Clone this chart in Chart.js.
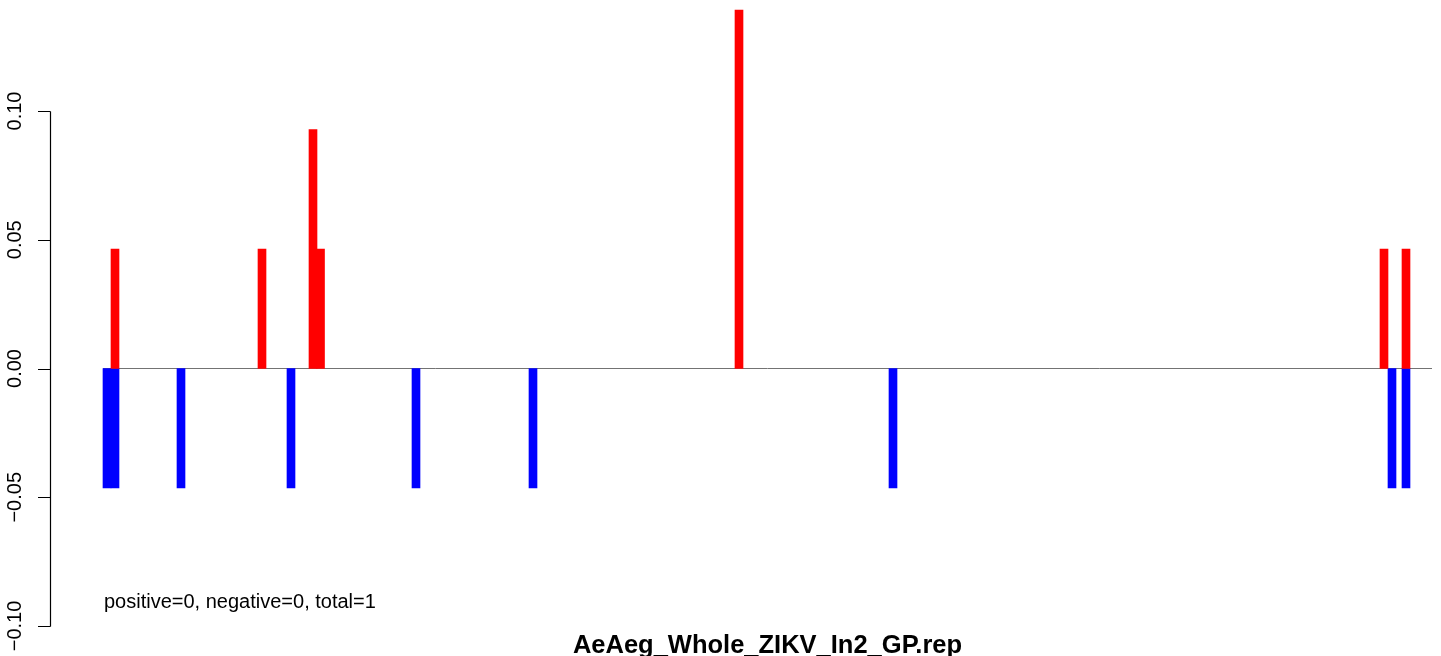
<!DOCTYPE html>
<html>
<head>
<meta charset="utf-8">
<title>AeAeg_Whole_ZIKV_In2_GP.rep</title>
<script src="https://cdn.jsdelivr.net/npm/chart.js@4/dist/chart.umd.min.js"></script>
<style>
  html, body { margin: 0; padding: 0; background: #ffffff; }
  #wrap { position: relative; width: 1441px; height: 656px; }
</style>
</head>
<body>
<div id="wrap"><canvas id="myChart"></canvas></div>
<script>
// positions along the sequence (arbitrary units) and read heights
var posPositions = [12, 159, 210, 217.5, 636, 1281, 1303];
var posValues    = [0.0464, 0.0464, 0.0928, 0.0464, 0.1392, 0.0464, 0.0464];
var negPositions = [4, 12, 78, 188, 313, 430, 790, 1289, 1303];
var negValues    = [-0.0464, -0.0464, -0.0464, -0.0464, -0.0464, -0.0464, -0.0464, -0.0464, -0.0464];
var seqRange     = [0, 1329];
var yTicks       = [-0.10, -0.05, 0.00, 0.05, 0.10];
var yTickLabels  = ["\u22120.10", "\u22120.05", "0.00", "0.05", "0.10"];
var mainTitle    = "AeAeg_Whole_ZIKV_In2_GP.rep";
var countsText   = "positive=0, negative=0, total=1";

function toPoints(xs, ys) {
  return xs.map(function (x, i) { return { x: x, y: ys[i] }; });
}

var rAxis = {
  id: "rAxis",
  afterDraw: function (chart) {
    var ctx = chart.ctx;
    var y = chart.scales.y;
    var axisX = 50.5;
    ctx.save();
    ctx.strokeStyle = "#000000";
    ctx.lineWidth = 1.2;
    ctx.beginPath();
    ctx.moveTo(axisX, Math.round(y.getPixelForValue(yTicks[0])) + 0.5);
    ctx.lineTo(axisX, Math.round(y.getPixelForValue(yTicks[yTicks.length - 1])) + 0.5);
    yTicks.forEach(function (t) {
      var py = Math.round(y.getPixelForValue(t)) + 0.5;
      ctx.moveTo(axisX, py);
      ctx.lineTo(axisX - 12.5, py);
    });
    ctx.stroke();

    ctx.fillStyle = "#000000";
    ctx.font = "20px 'Liberation Sans', Arial, sans-serif";
    ctx.textAlign = "center";
    ctx.textBaseline = "alphabetic";
    yTicks.forEach(function (t, i) {
      var py = y.getPixelForValue(t);
      ctx.save();
      ctx.translate(21, py);
      ctx.rotate(-Math.PI / 2);
      ctx.fillText(yTickLabels[i], 0, 0);
      ctx.restore();
    });

    ctx.textAlign = "left";
    ctx.fillText(countsText, 104, 608);

    ctx.font = "bold 25.5px 'Liberation Sans', Arial, sans-serif";
    ctx.textAlign = "center";
    ctx.fillText(mainTitle, 767.5, 652.5);
    ctx.restore();
  }
};

var ctx = document.getElementById("myChart");
new Chart(ctx, {
  type: "bar",
  data: {
    datasets: [
      {
        type: "line",
        data: toPoints(seqRange, [0, 0]),
        borderColor: "#737373",
        borderWidth: 1,
        pointRadius: 0,
        order: 3
      },
      {
        data: toPoints(negPositions, negValues),
        backgroundColor: "#0000FF",
        borderWidth: 0,
        barThickness: 8,
        grouped: false,
        order: 2
      },
      {
        data: toPoints(posPositions, posValues),
        backgroundColor: "#FF0000",
        borderWidth: 0,
        barThickness: 8,
        grouped: false,
        order: 1
      }
    ]
  },
  options: {
    responsive: true,
    maintainAspectRatio: false,
    animation: false,
    layout: { padding: 0 },
    plugins: {
      legend: { display: false },
      tooltip: { enabled: false },
      title: { display: false }
    },
    scales: {
      x: { type: "linear", min: -103, max: 1338, offset: false, display: false },
      y: { min: -0.11165, max: 0.14311, display: false }
    }
  },
  plugins: [rAxis]
});
</script>
</body>
</html>
